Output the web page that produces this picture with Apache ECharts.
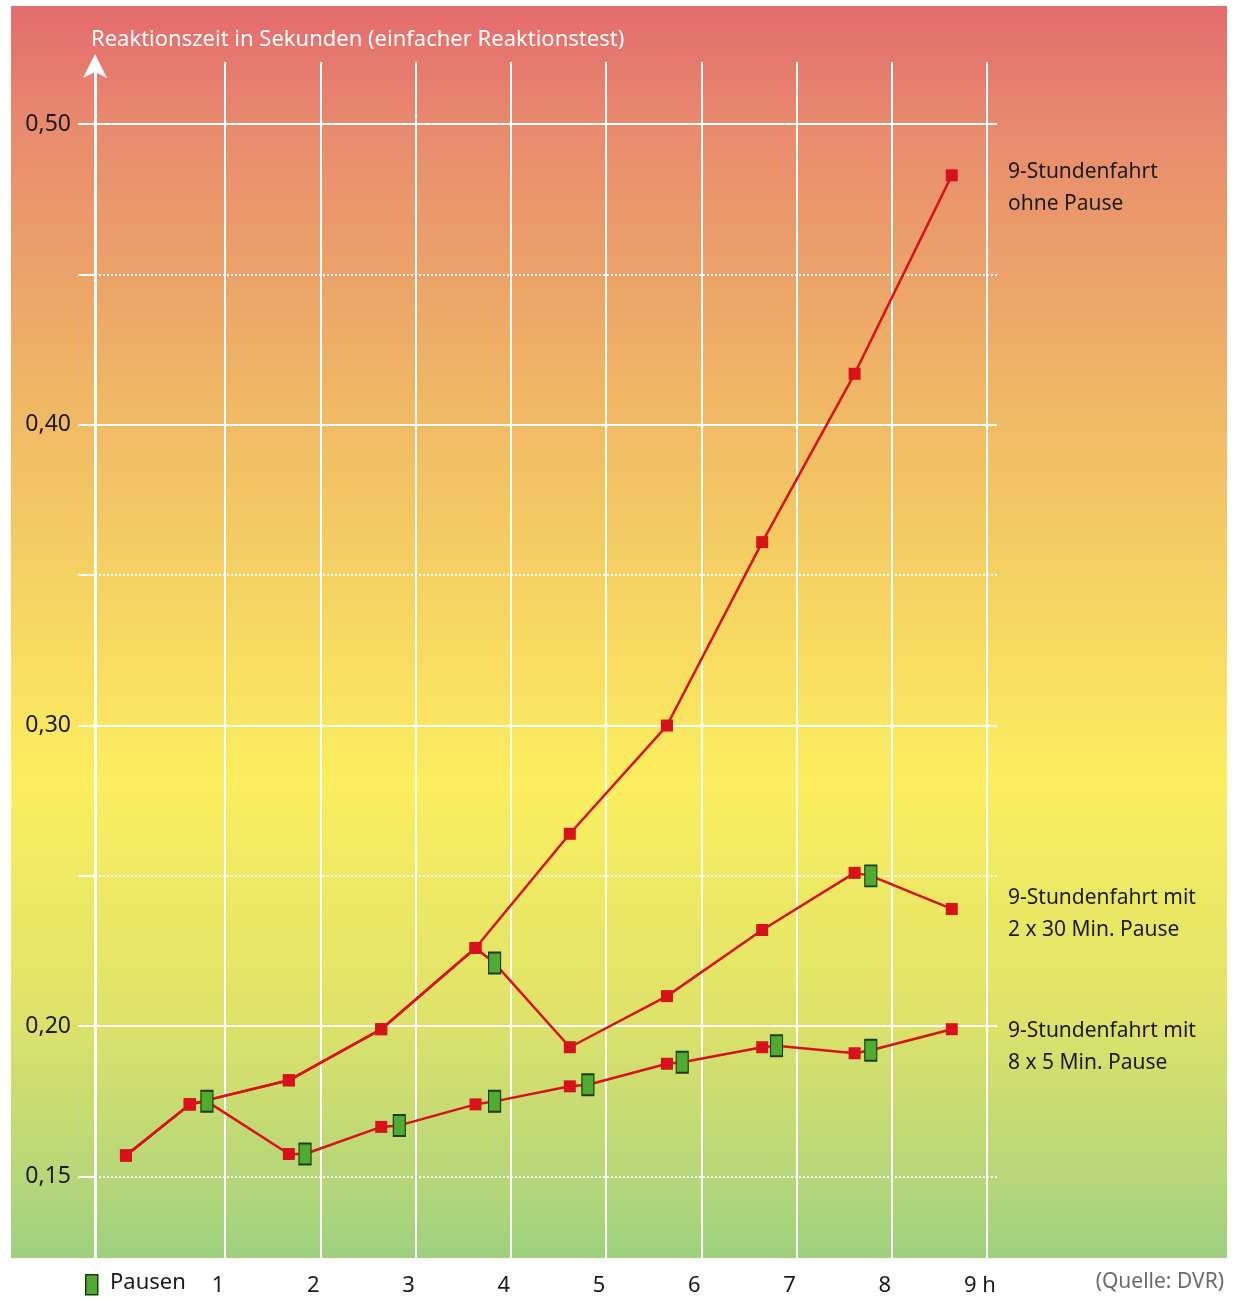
<!DOCTYPE html>
<html>
<head>
<meta charset="utf-8">
<script src="https://cdn.jsdelivr.net/npm/echarts@6/dist/echarts.min.js"></script>
<style>
  html, body { margin: 0; padding: 0; background: #fff; }
  #main { width: 1240px; height: 1298px; }
</style>
</head>
<body>
<div id="main"></div>
<script>
"use strict";

// Stunden (x) und Reaktionszeiten (y)
const ohneHours = [-0.04, 0.63, 1.67, 2.64, 3.63, 4.62, 5.64, 6.64, 7.61, 8.63];
const ohneValues = [0.157, 0.174, 0.182, 0.199, 0.226, 0.264, 0.300, 0.361, 0.417, 0.483];

const lang30Hours = [-0.04, 0.63, 1.67, 2.64, 3.63, 3.83, 4.62, 5.64, 6.64, 7.61, 7.78, 8.63];
const lang30Values = [0.157, 0.174, 0.182, 0.199, 0.226, 0.221, 0.193, 0.210, 0.232, 0.251, 0.250, 0.239];
const lang30Pausen = [0, 0, 0, 0, 0, 1, 0, 0, 0, 0, 1, 0];

const kurz5Hours = [-0.04, 0.63, 0.81, 1.67, 1.84, 2.64, 2.83, 3.63, 3.83, 4.62, 4.81, 5.64, 5.80, 6.64, 6.79, 7.61, 7.78, 8.63];
const kurz5Values = [0.157, 0.174, 0.175, 0.1575, 0.1575, 0.1665, 0.167, 0.174, 0.175, 0.180, 0.1805, 0.1875, 0.188, 0.193, 0.1935, 0.191, 0.192, 0.199];
const kurz5Pausen = [0, 0, 1, 0, 1, 0, 1, 0, 1, 0, 1, 0, 1, 0, 1, 0, 1, 0];

const xTicks = [1, 2, 3, 4, 5, 6, 7, 8, 9];
const yLabels = [0.15, 0.20, 0.30, 0.40, 0.50];
const ySolid = [0.20, 0.30, 0.40, 0.50];
const yDotted = [0.15, 0.25, 0.35, 0.45];

const FONT = '"Noto Sans", "Open Sans", sans-serif';
const RED = '#d7121b';

const toData = function (hours, values, pausen) {
    const res = [];
    for (let i = 0; i < hours.length; i++) {
        const item = { value: [hours[i], values[i]] };
        if (pausen && pausen[i]) {
            item.symbol = 'rect';
            item.symbolSize = [12, 21];
            item.itemStyle = { color: '#4fac30', borderColor: '#1f3a12', borderWidth: 1.5 };
        }
        res.push(item);
    }
    return res;
};

const lineSeries = function (name, data, z) {
    return {
        type: 'line',
        name: name,
        data: data,
        z: z,
        symbol: 'rect',
        symbolSize: 12,
        showAllSymbol: true,
        lineStyle: { color: RED, width: 2.5 },
        itemStyle: { color: RED },
        emphasis: { disabled: true }
    };
};

const chart = echarts.init(document.getElementById('main'));

const gridLines = [];
for (const v of ySolid) {
    gridLines.push({ yAxis: v, lineStyle: { color: '#fff', width: 2, type: 'solid' } });
}
for (const v of yDotted) {
    gridLines.push({ yAxis: v, lineStyle: { color: '#fff', width: 2, type: [2, 2] } });
}
for (const v of xTicks) {
    gridLines.push({ xAxis: v, lineStyle: { color: '#fff', width: 2, type: 'solid' } });
}

const option = {
    animation: false,
    title: {
        text: 'Reaktionszeit in Sekunden (einfacher Reaktionstest)',
        left: 86,
        top: 24,
        textStyle: { color: '#fff', fontFamily: FONT, fontSize: 22, fontWeight: 'normal' }
    },
    grid: { left: 95, right: 243, top: 62, bottom: 40 },
    xAxis: {
        type: 'value',
        min: -0.365,
        max: 9.105,
        axisLine: { show: false },
        axisTick: { show: false },
        splitLine: { show: false },
        axisLabel: {
            customValues: xTicks,
            margin: 17,
            color: '#1a1a1a',
            fontFamily: FONT,
            fontSize: 22,
            padding: [0, 14, 0, 0],
            formatter: v => (v === 9 ? '9 h' : String(v))
        }
    },
    yAxis: {
        type: 'value',
        min: 0.1229,
        max: 0.5207,
        axisLine: {
            show: true,
            onZero: false,
            symbol: ['none', 'arrow'],
            symbolSize: [18, 24],
            symbolOffset: [0, 8],
            lineStyle: { color: '#fff', width: 3 }
        },
        axisTick: {
            show: true,
            customValues: yDotted.concat(ySolid),
            length: 17,
            lineStyle: { color: '#fff', width: 2 }
        },
        splitLine: { show: false },
        axisLabel: {
            customValues: yLabels,
            margin: 24,
            color: '#1a1a1a',
            fontFamily: FONT,
            fontSize: 23,
            formatter: v => v.toFixed(2).replace('.', ',')
        }
    },
    graphic: [
        {
            type: 'rect',
            z: -10,
            silent: true,
            shape: { x: 11, y: 6, width: 1216, height: 1252 },
            style: {
                fill: new echarts.graphic.LinearGradient(0, 0, 0, 1, [
                    { offset: 0, color: '#e46b6e' },
                    { offset: 0.1, color: '#e88b6e' },
                    { offset: 0.32, color: '#f0b865' },
                    { offset: 0.48, color: '#f6d562' },
                    { offset: 0.62, color: '#fbee5f' },
                    { offset: 0.8, color: '#e0e369' },
                    { offset: 0.94, color: '#b5d679' },
                    { offset: 1, color: '#9dd07f' }
                ])
            }
        },
        {
            type: 'text', left: 1008, top: 156,
            style: { text: '9-Stundenfahrt\nohne Pause', fill: '#1a1a1a', font: '21px ' + FONT, lineHeight: 32 }
        },
        {
            type: 'text', left: 1008, top: 882,
            style: { text: '9-Stundenfahrt mit\n2 x 30 Min. Pause', fill: '#1a1a1a', font: '21px ' + FONT, lineHeight: 32 }
        },
        {
            type: 'text', left: 1008, top: 1015,
            style: { text: '9-Stundenfahrt mit\n8 x 5 Min. Pause', fill: '#1a1a1a', font: '21px ' + FONT, lineHeight: 32 }
        },
        {
            type: 'rect', left: 85, top: 1274,
            shape: { width: 12, height: 20 },
            style: { fill: '#4fac30', stroke: '#1f3a12', lineWidth: 1.5 }
        },
        {
            type: 'text', left: 110, top: 1272,
            style: { text: 'Pausen', fill: '#1a1a1a', font: '22px ' + FONT }
        },
        {
            type: 'text', right: 16, top: 1272,
            style: { text: '(Quelle: DVR)', fill: '#6b6b6b', font: '21px ' + FONT }
        }
    ],
    series: [
        {
            type: 'line',
            name: 'Raster',
            data: [],
            z: 1,
            silent: true,
            markLine: {
                z: 1,
                silent: true,
                symbol: ['none', 'none'],
                label: { show: false },
                emphasis: { disabled: true },
                data: gridLines
            }
        },
        lineSeries('9-Stundenfahrt ohne Pause', toData(ohneHours, ohneValues), 3),
        lineSeries('9-Stundenfahrt mit 2 x 30 Min. Pause', toData(lang30Hours, lang30Values, lang30Pausen), 3),
        lineSeries('9-Stundenfahrt mit 8 x 5 Min. Pause', toData(kurz5Hours, kurz5Values, kurz5Pausen), 4)
    ]
};

chart.setOption(option);
</script>
</body>
</html>
